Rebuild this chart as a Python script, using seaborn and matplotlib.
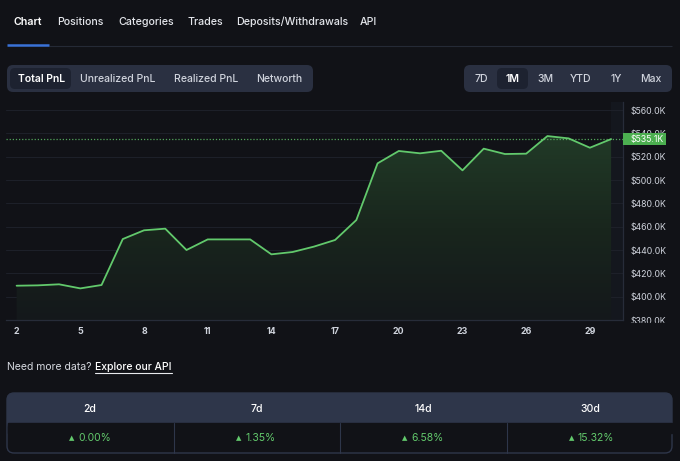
import numpy as np
import pandas as pd
import matplotlib
matplotlib.use("Agg")
import matplotlib.pyplot as plt
import matplotlib.transforms as mtransforms
import seaborn as sns
from matplotlib.patches import FancyBboxPatch, Rectangle
from matplotlib.colors import LinearSegmentedColormap

# ---------------- data ----------------
days = list(range(2, 31))
pnl_k = [409.4, 409.7, 410.6, 407.1, 410.0, 449.4, 456.9, 458.3, 440.0, 449.1,
         449.1, 449.1, 436.3, 438.3, 442.9, 448.6, 465.7, 514.3, 524.9, 522.9,
         525.1, 508.3, 526.9, 522.3, 522.6, 537.7, 535.7, 527.7, 535.1]
x_ticks = [2, 5, 8, 11, 14, 17, 20, 23, 26, 29]
y_ticks = [380, 400, 420, 440, 460, 480, 500, 520, 540, 560]
last_label = "$535.1K"

tabs = ["Chart", "Positions", "Categories", "Trades", "Deposits/Withdrawals", "API"]
metric_buttons = ["Total PnL", "Unrealized PnL", "Realized PnL", "Networth"]
range_buttons = ["7D", "1M", "3M", "YTD", "1Y", "Max"]
period_labels = ["2d", "7d", "14d", "30d"]
period_changes = ["0.00%", "1.35%", "6.58%", "15.32%"]

# ---------------- style ----------------
BG = "#111217"
GROUP = "#2a3041"
SEL = "#1d2230"
TEXT = "#d6d9e0"
GREEN = "#62c96c"
GRID = "#1d2029"
HEADER = "#2e364a"

sns.set_theme(style="dark")
plt.rcParams["font.family"] = ["Inter", "DejaVu Sans"]

W, H = 680, 461
fig = plt.figure(figsize=(W / 100, H / 100), dpi=100, facecolor=BG)

# overlay axes for UI in pixel coordinates
ui = fig.add_axes([0, 0, 1, 1], zorder=-1)
ui.set_xlim(0, W)
ui.set_ylim(H, 0)
ui.axis("off")
ui.set_facecolor(BG)
ui.add_patch(Rectangle((0, 0), W, H, color=BG, zorder=0))

# tabs
tab_x = [14, 57, 118, 187, 236, 360]
for i, (t, x) in enumerate(zip(tabs, tab_x)):
    ui.text(x, 22, t, fontsize=7.7, color="#ffffff" if i == 0 else "#e4e6eb",
            fontweight="semibold" if i == 0 else "medium", va="center", ha="left")
ui.plot([49, 672], [46, 46], color="#252a36", lw=0.8, solid_capstyle="butt")
ui.plot([7, 49], [45.5, 45.5], color="#3a72d8", lw=1.8, solid_capstyle="butt")

# button groups
def rbox(x0, y0, x1, y1, color, r=5, z=1, ec="none", lw=0):
    p = FancyBboxPatch((x0 + r, y0 + r), (x1 - x0) - 2 * r, (y1 - y0) - 2 * r,
                       boxstyle=f"round,pad={r}", fc=color, ec=ec, lw=lw, zorder=z)
    ui.add_patch(p)

rbox(7, 65, 313, 92, GROUP, r=6)
rbox(10, 68, 71, 89, SEL, r=5, z=2)
for t, cx in zip(metric_buttons, [42, 118, 206, 279]):
    ui.text(cx, 78.5, t, fontsize=7.5, color="#ffffff" if t == "Total PnL" else "#cfd3dc",
            fontweight="semibold" if t == "Total PnL" else "medium",
            ha="center", va="center", zorder=3)

rbox(464, 65, 672, 92, GROUP, r=6)
rbox(497, 68, 528, 89, SEL, r=5, z=2)
for t, cx in zip(range_buttons, [481, 512.5, 545, 581, 616, 651]):
    ui.text(cx, 78.5, t, fontsize=7.5, color="#ffffff" if t == "1M" else "#cfd3dc",
            fontweight="semibold" if t == "1M" else "medium",
            ha="center", va="center", zorder=3)

# footer text
ui.text(7, 367, "Need more data? ", fontsize=7.5, color=TEXT, va="center", ha="left")
ui.text(95, 367, "Explore our API", fontsize=7.5, color="#ffffff", va="center", ha="left",
        fontweight="medium")
ui.plot([95, 172], [373, 373], color="#e8eaee", lw=0.8)

# table
rbox(7, 393, 672, 453, BG, r=7, z=1, ec=HEADER, lw=1.0)
rbox(7, 393, 672, 430, HEADER, r=7, z=2)
ui.add_patch(Rectangle((7.5, 423), 664, 10, color=BG, zorder=2.5))
for xd in [174, 340, 507]:
    ui.plot([xd, xd], [423, 453], color=HEADER, lw=0.8, zorder=3)
centers = [90, 257, 423, 590]
for lab, ch, cx in zip(period_labels, period_changes, centers):
    ui.text(cx, 409, lab, fontsize=7.5, color="#ffffff", ha="center", va="center",
            fontweight="medium", zorder=4)
    ui.text(cx - 18, 438, "\u25B2", fontsize=5, color=GREEN, ha="center", va="center",
            family=["DejaVu Sans"], zorder=4)
    ui.text(cx - 12, 438, ch, fontsize=7.5, color=GREEN, ha="left", va="center", zorder=4)

# ---------------- chart ----------------
x_left, x_right, y_top, y_bot = 6, 623, 102, 320
ax = fig.add_axes([x_left / W, 1 - y_bot / H, (x_right - x_left) / W, (y_bot - y_top) / H],
                  zorder=1)
ax.set_facecolor("none")
ax.patch.set_alpha(0)

df = pd.DataFrame({"day": days, "pnl": pnl_k})
x_min, x_max = 1.5, 30.56
y_min, y_max = 380, 566.9
ax.set_xlim(x_min, x_max)
ax.set_ylim(y_min, y_max)

ax.axvspan(days[-1], x_max, color="#14171e", lw=0, zorder=0)
for yv in y_ticks:
    ax.axhline(yv, color=GRID, lw=0.8, zorder=0.5)

poly = ax.fill_between(df["day"], df["pnl"], y_min, color="none", lw=0)
cmap = LinearSegmentedColormap.from_list("g", ["#14181b", "#19261d", "#213a27"])
grad = np.linspace(0, 1, 256).reshape(-1, 1)
im = ax.imshow(grad, cmap=cmap, aspect="auto", origin="lower",
               extent=(x_min, x_max, y_min, max(pnl_k)), zorder=1)
im.set_clip_path(poly.get_paths()[0], transform=ax.transData)

sns.lineplot(data=df, x="day", y="pnl", ax=ax, color=GREEN, lw=1.3, zorder=3)
ax.axhline(pnl_k[-1], color=GREEN, lw=0.9, ls=(0, (1, 1.5)), alpha=0.8, zorder=2)

ax.set_xticks(x_ticks)
ax.set_xticklabels([str(v) for v in x_ticks], fontsize=6.4, fontweight="bold", color="#cfd3dc")
ax.yaxis.tick_right()
ax.set_yticks(y_ticks)
ax.set_yticklabels([f"${v:.1f}K" for v in y_ticks], fontsize=6.3, color="#cfd3dc")
ax.tick_params(axis="both", length=0)
ax.tick_params(axis="y", pad=5.5)
ax.tick_params(axis="x", pad=5)
ax.set_xlabel("")
ax.set_ylabel("")
ax.grid(False)
for s in ["top", "left"]:
    ax.spines[s].set_visible(False)
for s in ["bottom", "right"]:
    ax.spines[s].set_visible(True)
    ax.spines[s].set_color("#272c39")
    ax.spines[s].set_linewidth(0.9)

# last value badge (sits over the $540.0K label, as in the reference)
badge_tr = mtransforms.blended_transform_factory(ax.transAxes, ax.transData)
axw = x_right - x_left
kpp = (y_max - y_min) / (y_bot - y_top)  # value per pixel
ax.add_patch(Rectangle((1.0, pnl_k[-1] - 6 * kpp), 43 / axw, 12 * kpp, transform=badge_tr,
                       fc="#4caf50", ec="none", clip_on=False, zorder=6))
ax.text(1.0 + 7.5 / axw, pnl_k[-1], last_label, transform=badge_tr, ha="left", va="center",
        fontsize=6.3, color="#ffffff", zorder=7, clip_on=False)

# hide lower part of bottom y label (cut off in reference)
fig.patches.append(Rectangle((625 / W, 1 - 329 / H), 55 / W, 6 / H, transform=fig.transFigure,
                             color=BG, zorder=10))

fig.savefig("out.png", dpi=100, facecolor=BG)
